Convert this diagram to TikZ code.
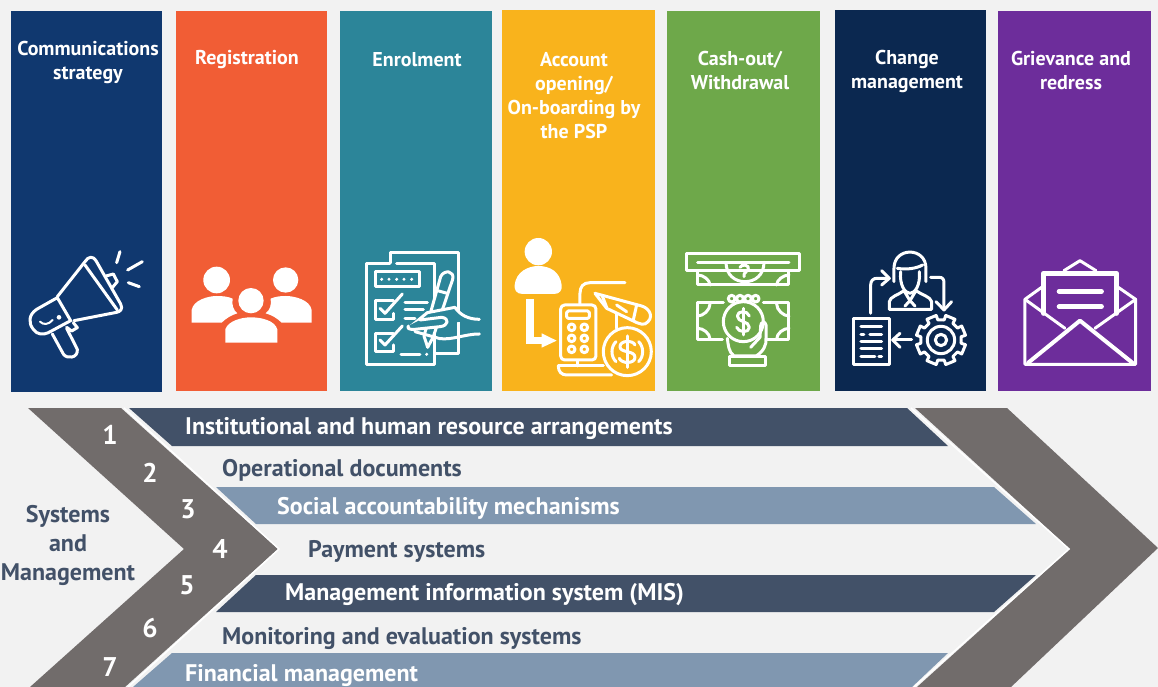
\documentclass[tikz,border=0pt]{standalone}
\usepackage{fontspec}
\setmainfont{PT Sans}
\usepackage{xcolor}
\definecolor{colblue}{HTML}{10386F}
\definecolor{colorange}{HTML}{F15D35}
\definecolor{colteal}{HTML}{2C8599}
\definecolor{colyellow}{HTML}{F9B31C}
\definecolor{colgreen}{HTML}{6EA84A}
\definecolor{colnavy}{HTML}{0B2850}
\definecolor{colpurple}{HTML}{6D2D9B}
\definecolor{chevgray}{HTML}{716C6B}
\definecolor{banddark}{HTML}{425168}
\definecolor{bandlight}{HTML}{8097B0}
\definecolor{bgpage}{HTML}{F2F2F2}
\newcommand*{\bigLabel}{\fontsize{24}{29}\selectfont\bfseries}
\newcommand*{\colLabel}{\fontsize{20}{24}\selectfont\bfseries}
\newcommand*{\numLabel}{\fontsize{27}{29}\selectfont\bfseries}

\begin{document}
\begin{tikzpicture}[x=1pt,y=-1pt,
	colbox/.style={rectangle,inner sep=0pt,minimum height=380pt},
	collabel/.style={text=white,align=center,font=\colLabel},
	bandlabel/.style={anchor=west,inner sep=0pt,font=\bigLabel},
	numlabel/.style={text=white,inner sep=0pt,font=\numLabel},
	icon/.style 2 args={xshift=#1pt,yshift=-#2pt,x=0.3333pt,y=-0.3333pt,draw=white,line width=3pt,line join=round,line cap=round}]
	\useasboundingbox (0,0) rectangle (1158,687);
	\clip (0,0) rectangle (1158,687);
	\fill[bgpage] (0,0) rectangle (1158,687);
	\foreach \n/\xc/\yc/\boxw/\colr in {1/86.5/201.5/151/colblue,2/251.5/201/151/colorange,3/416/201/152/colteal,4/578.5/200.5/153/colyellow,5/743.5/201/153/colgreen,6/910.5/200.5/151/colnavy,7/1074.5/201/153/colpurple}
		\node[colbox,fill=\colr,minimum width=\boxw pt] (col\n) at (\xc,\yc) {};
	\node[collabel] (lab1) at (88,62) {Communications\\strategy};
	\node[collabel] (lab2) at (247,60) {Registration};
	\node[collabel] (lab3) at (417,60) {Enrolment};
	\node[collabel] (lab4) at (574,96) {Account\\opening/\\On-boarding by\\the PSP};
	\node[collabel] (lab5) at (740,71) {Cash-out/\\Withdrawal};
	\node[collabel] (lab6) at (907,71) {Change\\management};
	\node[collabel] (lab7) at (1071,71) {Grievance and\\redress};
	% chevrons
	\fill[chevgray] (28,408) -- (121,408) -- (278,549) -- (125,687) -- (30,687) -- (184,549) -- cycle;
	\fill[chevgray] (915,408) -- (1007,408) -- (1158,548) -- (1011,687) -- (917,687) -- (1070,549) -- cycle;
	% bands
	\fill[banddark] (129,408) -- (907,408) -- (948,446) -- (172,446) -- cycle;
	\fill[bandlight] (216,487) -- (994,487) -- (1036,524) -- (256,524) -- cycle;
	\fill[banddark] (256,575) -- (1036,575) -- (994,612) -- (216,612) -- cycle;
	\fill[bandlight] (172,653) -- (948,653) -- (912,687) -- (133,687) -- cycle;
	\draw[white,line width=1.5pt] (124,408) -- (279,549) -- (128,687);
	\draw[white,line width=1.5pt] (911,408) -- (1069,549) -- (914,687);
	\node[bandlabel,text=white] (band1) at (185,428.5) {Institutional and human resource arrangements};
	\node[bandlabel,text=banddark] (band2) at (222,470.5) {Operational documents};
	\node[bandlabel,text=white] (band3) at (277,508) {Social accountability mechanisms};
	\node[bandlabel,text=banddark] (band4) at (308,551.5) {Payment systems};
	\node[bandlabel,text=white] (band5) at (285,595) {Management information system (MIS)};
	\node[bandlabel,text=banddark] (band6) at (222,639) {Monitoring and evaluation systems};
	\node[bandlabel,text=white] (band7) at (185,675.5) {Financial management};
	\foreach \i/\x/\y in {1/110/435,2/150/473,3/188/509,4/220/549,5/187/585,6/150/628,7/110/667}
		\node[numlabel] (num\i) at (\x,\y) {\i};
	\node[inner sep=0pt,align=center,text=banddark,font=\bigLabel] (sysmgmt) at (68,545) {Systems\\and\\Management};
	% megaphone
	\begin{scope}[icon={0}{230}]
		\draw (172,200) -- (255,95) .. controls (265,78) and (280,78) .. (288,92) -- (362,222) .. controls (370,238) and (360,245) .. (350,247) -- (222,272);
		\draw (255,105) -- (352,240);
		\draw (172,203) -- (110,238) .. controls (85,255) and (85,280) .. (100,298) .. controls (112,315) and (130,315) .. (145,308) -- (212,272) -- cycle;
		\draw[line width=2pt] (120,275) .. controls (130,285) and (145,285) .. (158,270);
		\fill[white] (177,262) circle[radius=7];
		\draw (157,312) -- (190,372) .. controls (200,388) and (235,385) .. (232,358) -- (200,295);
		\draw (200,292) -- (215,303) -- (232,293) -- (220,278);
		\draw (318,138) -- (340,132) -- (352,155) -- (335,175);
		\draw (350,98) -- (360,65);
		\draw (383,120) -- (427,95);
		\draw (385,158) -- (418,170);
	\end{scope}
	% people
	\begin{scope}[icon={0}{230}]
		\fill[white] (650,150) circle[radius=40];
		\fill[white] (857,150) circle[radius=38];
		\fill[white] (753,212) circle[radius=38];
		\fill[white] (575,278) -- (575,240) .. controls (580,210) and (625,198) .. (650,198) .. controls (670,198) and (685,200) .. (698,206) .. controls (695,225) and (700,240) .. (712,250) .. controls (695,255) and (678,265) .. (665,278) -- cycle;
		\fill[white] (935,278) -- (935,240) .. controls (930,210) and (885,198) .. (857,198) .. controls (840,198) and (825,200) .. (812,206) .. controls (815,225) and (810,240) .. (797,250) .. controls (815,255) and (832,265) .. (845,278) -- cycle;
		\fill[white] (676,338) -- (676,298) .. controls (685,272) and (725,262) .. (753,262) .. controls (785,262) and (825,272) .. (832,298) -- (832,338) -- cycle;
	\end{scope}
	% clipboard
	\begin{scope}[icon={340}{230}]
		\draw (150,98) -- (150,68) -- (355,68) -- (355,372) -- (285,372);
		\draw (150,100) -- (80,100) -- (80,405) -- (285,405) -- (285,100) -- (170,100);
		\draw (105,125) rectangle (240,170);
		\foreach \x in {125,147,170,192,215} \fill[white] (\x,148) circle[radius=5];
		\draw (160,212) -- (105,212) -- (105,268) -- (160,268) -- (160,250);
		\draw (120,235) -- (135,250) -- (187,192);
		\draw (160,310) -- (105,310) -- (105,365) -- (160,365) -- (160,345);
		\draw (120,330) -- (135,345) -- (187,288);
		\draw (195,218) -- (262,218);
		\draw (195,240) -- (250,240);
		\draw (195,265) -- (225,265);
		\draw (183,373) -- (240,373);
		\fill[white] (260,373) circle[radius=5];
		\draw[fill=colteal] (302,140) .. controls (312,118) and (345,122) .. (338,148) -- (280,320) -- (263,352) -- (252,318) -- cycle;
		\draw (285,180) -- (322,190);
		\draw[fill=colteal] (205,295) -- (262,248) -- (345,232) .. controls (360,255) and (385,268) .. (418,268);
		\draw[fill=colteal] (240,270) -- (305,262) .. controls (330,265) and (325,288) .. (300,290) -- (225,298) .. controls (210,300) and (200,295) .. (205,288);
		\draw (225,305) -- (300,326) .. controls (340,330) and (375,312) .. (418,312);
	\end{scope}
	% person to calculator
	\begin{scope}[icon={340}{230}]
		\fill[white] (595,65) circle[radius=41];
		\fill[white] (548,192) .. controls (530,192) and (522,180) .. (524,165) .. controls (528,125) and (565,108) .. (595,108) .. controls (630,108) and (660,125) .. (665,165) .. controls (667,180) and (660,192) .. (642,192) -- cycle;
		\draw[line width=7.5pt,line cap=butt,line join=miter] (570,207) -- (570,332) -- (610,332);
		\fill[white] (605,310) -- (650,332) -- (605,353) -- cycle;
		\draw (720,225) -- (720,190) .. controls (720,170) and (730,158) .. (750,158) -- (855,158);
		\draw (830,250) -- (830,295);
		\draw[fill=colyellow,rounded corners=4pt] (662,225) rectangle (768,390);
		\draw[rounded corners=1.5pt] (680,243) rectangle (748,265);
		\foreach \x in {695,733}
			\foreach \y in {292,325,358}
				\draw (\x,\y) circle[radius=10];
		\draw (713,392) -- (713,408);
		\draw (655,408) -- (790,408);
		\draw (655,408) .. controls (655,425) and (665,435) .. (680,435) -- (815,435);
		\draw[fill=colyellow] (765,190) -- (905,228) .. controls (930,235) and (945,265) .. (915,282) .. controls (900,285) and (885,275) .. (870,268) -- (800,235) -- cycle;
		\draw (787,198) -- (800,232);
		\draw (890,225) -- (880,270);
		\draw (830,225) -- (860,245);
		\draw[fill=colyellow] (862,365) circle[radius=72];
		\draw (828,335) .. controls (812,350) and (812,380) .. (828,395);
		\draw (896,335) .. controls (912,350) and (912,380) .. (896,395);
		\draw (885,345) .. controls (880,330) and (840,330) .. (840,350) .. controls (840,370) and (885,360) .. (885,382) .. controls (885,402) and (845,402) .. (838,385);
		\draw (862,318) -- (862,412);
	\end{scope}
	% cash out
	\begin{scope}[icon={660}{230}]
		\draw (80,72) rectangle (420,122);
		\draw (113,122) -- (113,165) -- (387,165) -- (387,122);
		\draw (113,97) -- (387,97);
		\draw (198,97) .. controls (198,135) and (225,155) .. (255,155) .. controls (285,155) and (312,135) .. (312,97);
		\draw (240,112) .. controls (245,100) and (270,105) .. (265,118) .. controls (262,128) and (250,125) .. (252,140);
		\draw (113,135) .. controls (130,135) and (150,150) .. (150,165);
		\draw (387,135) .. controls (370,135) and (350,150) .. (350,165);
		\draw (190,218) -- (113,218) -- (113,330) -- (187,330);
		\draw (310,218) -- (387,218) -- (387,330) -- (322,330);
		\draw (113,258) .. controls (130,258) and (150,240) .. (150,222);
		\draw (387,258) .. controls (370,258) and (350,240) .. (350,222);
		\draw (113,295) .. controls (130,295) and (150,310) .. (150,328);
		\draw (387,295) .. controls (370,295) and (350,310) .. (350,328);
		\foreach \x in {215,240,264,287} \draw (\x,206) circle[radius=10];
		\draw (250,275) circle[radius=60];
		\draw (268,258) .. controls (262,240) and (232,242) .. (232,258) .. controls (232,278) and (268,272) .. (268,292) .. controls (268,310) and (235,308) .. (230,292);
		\draw (250,235) -- (250,315);
		\draw (202,325) .. controls (205,345) and (205,365) .. (222,378) -- (288,378) .. controls (310,365) and (320,345) .. (318,325) -- (318,285) .. controls (316,272) and (302,275) .. (302,288) -- (300,322) -- (272,352);
		\draw (208,380) rectangle (315,408);
	\end{scope}
	% change management
	\begin{scope}[icon={660}{230}]
		\draw (702,155) -- (702,115) .. controls (702,50) and (798,50) .. (798,115) -- (798,155);
		\draw (722,125) .. controls (718,165) and (735,190) .. (750,190) .. controls (765,190) and (782,165) .. (778,125);
		\draw (712,115) .. controls (740,120) and (770,115) .. (788,105);
		\draw (688,238) -- (688,215) .. controls (690,200) and (715,195) .. (732,182) -- (750,212) -- (768,182) .. controls (785,195) and (812,200) .. (815,215) -- (815,238) -- cycle;
		\draw (750,212) -- (735,228);
		\draw (750,212) -- (765,228);
		\draw (632,250) -- (632,165) .. controls (632,152) and (640,145) .. (650,145) -- (685,145);
		\draw (665,122) -- (688,145) -- (665,165);
		\draw (812,142) -- (838,142) .. controls (848,142) and (852,148) .. (852,158) -- (852,238);
		\draw (828,215) -- (852,240) -- (875,215);
		\draw (582,265) rectangle (688,405);
		\draw (603,290) -- (665,290);
		\draw (603,313) -- (612,313);
		\draw (630,313) -- (665,313);
		\draw (603,335) -- (665,335);
		\draw (603,357) -- (665,357);
		\draw (603,380) -- (645,380);
		\draw (657,380) -- (665,380);
		\draw (755,330) -- (700,330);
		\draw (720,310) -- (698,330) -- (720,352);
		% gear
		\foreach \a in {0,45,...,315}
			\draw (843,330) +(\a+9:61) -- +(\a+11:75) -- +(\a+34:75) -- +(\a+36:61) -- +(\a+54:61);
		\draw (843,330) circle[radius=41];
		\draw (843,330) circle[radius=17];
	\end{scope}
	% envelope
	\begin{scope}[icon={660}{230}]
		\draw (1145,172) -- (1095,208) -- (1095,403) -- (1427,403) -- (1427,208) -- (1375,172);
		\draw[line width=5pt] (1150,250) -- (1150,130) -- (1370,130) -- (1370,250);
		\draw (1212,122) -- (1260,92) -- (1308,122);
		\draw (1095,208) -- (1215,295);
		\draw (1427,208) -- (1305,295);
		\draw[line width=4pt] (1105,398) -- (1260,272) -- (1417,398);
		\draw[line width=4.5pt] (1197,184) -- (1325,184);
		\draw[line width=4.5pt] (1197,230) -- (1325,230);
	\end{scope}
\end{tikzpicture}
\end{document}
